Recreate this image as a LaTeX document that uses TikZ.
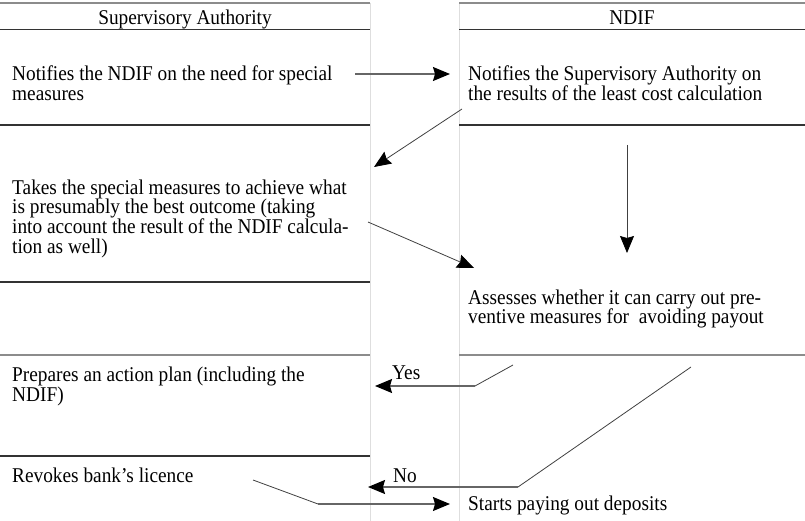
\documentclass[tikz,border=0pt]{standalone}
\usepackage{fontspec}
\setmainfont{Liberation Serif}[FakeStretch=0.92]
\usetikzlibrary{arrows.meta}
\begin{document}
\begin{tikzpicture}[x=1pt,y=-1pt,
  fnt/.style={font=\fontsize{21}{19.6}\selectfont},
  txt/.style={fnt, align=left, inner sep=0pt, anchor=north west},
  hdr/.style={fnt, inner sep=0pt, anchor=base},
  lbl/.style={fnt, inner sep=0pt, anchor=base west},
  darkrule/.style={draw=black!80, line width=1.1pt},
  grayrule/.style={draw=black!45, line width=1.5pt},
  lanerule/.style={draw=black!13, line width=1pt},
  tip/.style={-{Stealth[length=17pt,width=14pt,inset=2pt,color=black]}},
  conn/.style={draw=black!75, line width=0.8pt, tip},
  thickconn/.style={draw=black!60, line width=1.3pt, tip},
  conn0/.style={draw=black!75, line width=0.8pt}
]
\useasboundingbox (0,0) rectangle (805,521);
% lanes
\draw[lanerule] (370,3) -- (370,521);
\draw[lanerule] (459,3) -- (459,521);
\draw[grayrule] (0,3) -- (370,3);
\draw[grayrule] (459,3) -- (805,3);
\draw[darkrule] (0,29.5) -- (370,29.5);
\draw[darkrule] (459,29.5) -- (805,29.5);
\draw[darkrule] (0,125) -- (370,125);
\draw[darkrule] (459,125) -- (805,125);
\draw[darkrule] (0,282) -- (370,282);
\draw[grayrule] (0,355) -- (370,355);
\draw[grayrule] (459,355) -- (805,355);
\draw[darkrule] (0,456) -- (370,456);
% headers
\node[hdr] (hsa) at (185,25) {Supervisory Authority};
\node[hdr] (hnd) at (632,25) {NDIF};
% texts (top = first baseline - 14.3)
\node[txt] (sa1) at (12,65.5) {Notifies the NDIF on the need for special\\measures};
\node[txt] (nd1) at (468,65.5) {Notifies the Supervisory Authority on\\the results of the least cost calculation};
\node[txt] (sa2) at (12,179.5) {Takes the special measures to achieve what\\is presumably the best outcome (taking\\into account the result of the NDIF calcula-\\tion as well)};
\node[txt] (nd2) at (468,289.5) {Assesses whether it can carry out pre-\\ventive measures for~ avoiding payout};
\node[txt] (sa3) at (12,366.7) {Prepares an action plan (including the\\NDIF)};
\node[txt] (sa4) at (12,467.7) {Revokes bank’s licence};
\node[txt] (nd3) at (468,495.7) {Starts paying out deposits};
\node[lbl] (yes) at (392,379) {Yes};
\node[lbl] (no) at (393,482) {No};
% connector end points
\coordinate (a1s) at (355,74);
\coordinate (a1e) at (450,74);
\coordinate (a2s) at (462,109);
\coordinate (a2e) at (374,167);
\coordinate (a3s) at (627,145);
\coordinate (a3e) at (627,253);
\coordinate (a4s) at (368,222);
\coordinate (a4e) at (474,268);
\coordinate (ys) at (513,365);
\coordinate (yc) at (475,386);
\coordinate (ye) at (375,386);
\coordinate (ns) at (691,367);
\coordinate (nc) at (518,487);
\coordinate (ne) at (368,487);
\coordinate (rs) at (253,480);
\coordinate (rc) at (318,504);
\coordinate (re) at (450,504);
% connectors
\draw[thickconn] (a1s) -- (a1e);
\draw[conn] (a2s) -- (a2e);
\draw[conn] (a3s) -- (a3e);
\draw[conn] (a4s) -- (a4e);
\draw[conn0] (ys) -- (yc);
\draw[thickconn] (yc) -- (ye);
\draw[conn0] (ns) -- (nc);
\draw[thickconn] (nc) -- (ne);
\draw[conn0] (rs) -- (rc);
\draw[thickconn] (rc) -- (re);
\end{tikzpicture}
\end{document}
